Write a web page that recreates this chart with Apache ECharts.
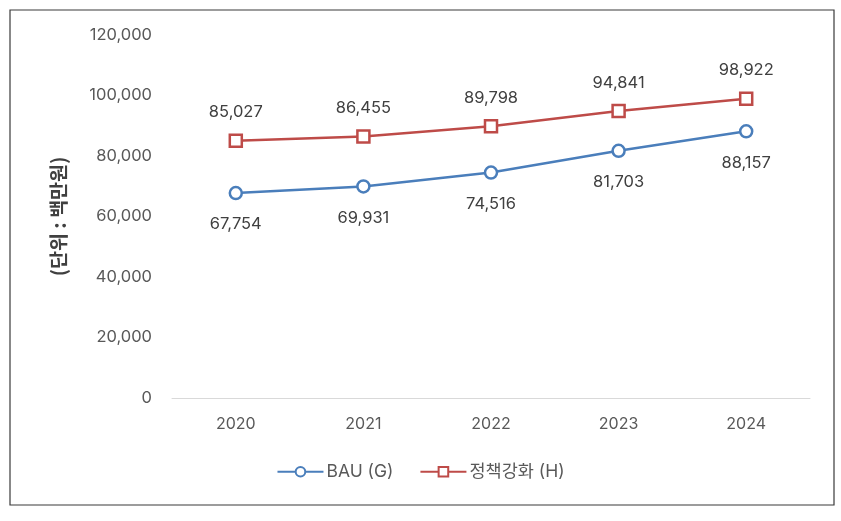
<!DOCTYPE html>
<html><head><meta charset="utf-8">
<script src="https://cdn.jsdelivr.net/npm/echarts@6/dist/echarts.min.js"></script>
<style>html,body{margin:0;padding:0;background:#fff}#c{width:841px;height:521px}</style>
</head><body><div id="c"></div>
<script>
const categories = ['2020', '2021', '2022', '2023', '2024'];
const bauValues = [67754, 69931, 74516, 81703, 88157];
const policyValues = [85027, 86455, 89798, 94841, 98922];
const seriesNames = ['BAU (G)', '정책강화 (H)'];
const yAxisTitle = '(단위 : 백만원)';

const font = 'Inter, "Noto Sans CJK KR", sans-serif';
const chart = echarts.init(document.getElementById('c'));
chart.setOption({
  animation: false,
  textStyle: { fontFamily: font },
  graphic: [{
    type: 'rect', shape: { x: 10, y: 10, width: 824, height: 495 },
    style: { fill: 'none', stroke: '#3a3a3a', lineWidth: 1.2 }, silent: true
  }],
  grid: { left: 172, right: 31, top: 35, bottom: 123 },
  legend: {
    top: 458, left: 'center', itemWidth: 46, itemHeight: 12, itemGap: 26,
    textStyle: { fontSize: 17.5, color: '#595959', fontFamily: font, padding: [0, 0, 0, -2] },
    data: seriesNames
  },
  xAxis: {
    type: 'category', data: categories, boundaryGap: true,
    axisLine: { lineStyle: { color: '#d9d9d9', width: 1 } },
    axisTick: { show: false },
    axisLabel: { fontSize: 16, color: '#595959', margin: 18 }
  },
  yAxis: {
    type: 'value', min: 0, max: 120000, interval: 20000,
    name: yAxisTitle, nameLocation: 'middle', nameGap: 104, nameRotate: 90,
    nameTextStyle: { fontSize: 19.5, fontWeight: 'bold', color: '#404040',
      fontFamily: '"Noto Sans CJK KR", sans-serif' },
    axisLine: { show: false }, axisTick: { show: false },
    splitLine: { show: false },
    axisLabel: { fontSize: 16.5, color: '#595959', margin: 20,
      formatter: v => v.toLocaleString('en-US') }
  },
  series: [{
    name: seriesNames[0], type: 'line', data: bauValues,
    symbol: 'circle', symbolSize: 12,
    lineStyle: { color: '#4a7ebb', width: 2.5 },
    itemStyle: { color: '#fff', borderColor: '#4a7ebb', borderWidth: 2.5 },
    label: { show: true, position: 'bottom', distance: 16, fontSize: 16.5, color: '#404040',
      formatter: p => p.value.toLocaleString('en-US') }
  }, {
    name: seriesNames[1], type: 'line', data: policyValues,
    symbol: 'rect', symbolSize: 12,
    lineStyle: { color: '#be4b48', width: 2.5 },
    itemStyle: { color: '#fff', borderColor: '#be4b48', borderWidth: 2.5 },
    label: { show: true, position: 'top', distance: 13, fontSize: 16.5, color: '#404040',
      formatter: p => p.value.toLocaleString('en-US') }
  }]
});
</script></body></html>
